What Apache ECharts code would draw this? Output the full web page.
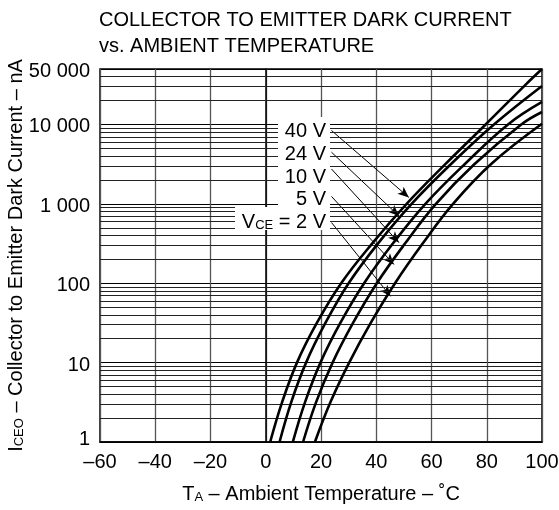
<!DOCTYPE html>
<html><head><meta charset="utf-8">
<script src="https://cdn.jsdelivr.net/npm/echarts@6/dist/echarts.min.js"></script>
<style>html,body{margin:0;padding:0;background:#fff}#c{width:559px;height:510px}</style>
</head><body><div id="c"></div>
<script>
// ---- data (temperature °C, dark current nA) ----
const seriesNames = ['40 V', '24 V', '10 V', '5 V', 'VCE = 2 V'];
const curve40 = [[1.6,1],[5.9,3.16],[11.3,10],[18.5,31.6],[27.3,100],[38.5,316],[51.0,1000],[65.0,3160],[79.6,10000],[94.0,31600],[100,50000]];
const curve24 = [[5.0,1],[9.2,3.16],[14.6,10],[21.6,31.6],[30.0,100],[40.6,316],[52.8,1000],[67.0,3160],[82.6,10000],[100,30600]];
const curve10 = [[9.8,1],[14.2,3.16],[19.8,10],[27.0,31.6],[35.6,100],[46.0,316],[57.8,1000],[72.0,3160],[87.7,10000],[100,19200]];
const curve5  = [[13.5,1],[18.2,3.16],[24.2,10],[31.6,31.6],[40.2,100],[50.4,316],[61.6,1000],[75.5,3160],[92.5,10000],[100,14350]];
const curve2  = [[17.8,1],[23.4,3.16],[30.2,10],[38.0,31.6],[46.8,100],[56.8,316],[67.8,1000],[81.5,3160],[100,10200]];
const curves = [curve40, curve24, curve10, curve5, curve2];
// arrows: [label end, arrow tip] in data coords
const arrowStarts = [[23.8,8400],[23.8,4475],[23.8,2750],[23.8,1241],[23.8,582]];
const arrowTips   = [[51.8,1205],[48.2,705],[48.2,325],[46.4,172.6],[45.2,68.4]];
// axes
const xTicks = [-60,-40,-20,0,20,40,60,80,100];
const yTickValues = [1,10,100,1000,10000,50000];
const yTickLabels = ['1','10','100','1 000','10 000','50 000'];
const minorGrid = [2,3,4,5,6,7,8,9,20,30,40,50,60,70,80,90,200,300,400,500,600,700,800,900,2000,3000,4000,5000,6000,7000,8000,9000,20000,30000,40000];

const FONT = 'Liberation Sans, Arial, Helvetica, sans-serif';
const chart = echarts.init(document.getElementById('c'), null, {renderer:'canvas'});

const series = curves.map((c, i) => ({
  name: seriesNames[i], type: 'line', data: c, smooth: 0.4, showSymbol: false,
  lineStyle: {color:'#000', width: 2.6}, z: 5, silent: true,
  markLine: {
    silent: true, symbol: ['none','arrow'], symbolSize: [7, 11],
    label: {show:false}, lineStyle: {color:'#000', width: 1, type:'solid'},
    data: [[{coord: arrowStarts[i]}, {coord: arrowTips[i]}]]
  }
}));
// minor log grid lines
series.push({
  type:'line', data: [], silent: true, z: 1,
  markLine: {
    silent: true, symbol: 'none', label: {show:false},
    lineStyle: {color:'#222', width: 1, type:'solid'},
    data: minorGrid.map(v => ({yAxis: v}))
  }
});

chart.setOption({
  animation: false,
  backgroundColor: '#fff',
  title: {
    text: 'COLLECTOR TO EMITTER DARK CURRENT\nvs. AMBIENT TEMPERATURE',
    left: 99, top: 7, padding: 0,
    textStyle: {fontFamily: FONT, fontSize: 20, fontWeight: 'normal', color: '#000', lineHeight: 26}
  },
  grid: {left: 100, right: 17, top: 69, bottom: 68, show: true, borderColor: '#000', borderWidth: 1.5,
         containLabel: false, outerBoundsMode: 'none'},
  xAxis: {
    type: 'value', min: -60, max: 100, interval: 20,
    axisLine: {lineStyle: {color:'#000', width: 1.5}},
    axisTick: {show: false},
    splitLine: {show: true, lineStyle: {color: '#555', width: 1.3}},
    axisLabel: {color:'#000', fontFamily: FONT, fontSize: 20, margin: 10,
      formatter: v => (v < 0 ? '\u2013' + Math.abs(v) : String(v))},
    name: '{t|T}{s|A}{t| \u2013 Ambient Temperature \u2013 \u02DAC}',
    nameLocation: 'middle', nameGap: 40, nameMoveOverlap: false,
    nameTextStyle: {rich: {
      t: {fontFamily: FONT, fontSize: 20, color:'#000', verticalAlign:'bottom', lineHeight: 22},
      s: {fontFamily: FONT, fontSize: 13, color:'#000', verticalAlign:'bottom', lineHeight: 22}
    }}
  },
  yAxis: {
    type: 'log', logBase: 10, min: 1, max: 50000,
    axisLine: {lineStyle: {color:'#000', width: 1.5}},
    axisTick: {show: false},
    splitLine: {show: true, lineStyle: {color: '#000', width: 1}},
    axisLabel: {color:'#000', fontFamily: FONT, fontSize: 20, margin: 10, showMaxLabel: true,
      formatter: v => {
        let best = 0, d = Infinity;
        yTickValues.forEach((t, k) => { const dd = Math.abs(Math.log10(t) - Math.log10(v)); if (dd < d) { d = dd; best = k; } });
        return best === 0 ? '{lo|' + yTickLabels[best] + '}' : '{n|' + yTickLabels[best] + '}';
      },
      rich: {
        n: {fontFamily: FONT, fontSize: 20, color:'#000', padding: [5, 0, 0, 0]},
        lo: {fontFamily: FONT, fontSize: 20, color:'#000', padding: [0, 0, 6, 0]}
      }},
    name: '{t|I}{s|CEO}{t| \u2013 Collector to Emitter Dark Current \u2013 nA}',
    nameLocation: 'middle', nameGap: 74, nameMoveOverlap: false,
    nameTextStyle: {rich: {
      t: {fontFamily: FONT, fontSize: 20, color:'#000', verticalAlign:'bottom', lineHeight: 22},
      s: {fontFamily: FONT, fontSize: 13, color:'#000', verticalAlign:'bottom', lineHeight: 22}
    }}
  },
  series: series
});

// label box and labels
const labelTexts = ['{a|40 V}', '{a|24 V}', '{a|10 V}', '{a|5 V}', '{a|V}{b|CE}{a| = 2 V}'];
const labelY = [130, 153, 176, 198, 221];
const rich = {
  a: {fontFamily: FONT, fontSize: 20, color:'#000', verticalAlign:'bottom', lineHeight: 22},
  b: {fontFamily: FONT, fontSize: 13, color:'#000', verticalAlign:'bottom', lineHeight: 22}
};
const elements = [
  {type:'rect', shape:{x:278, y:117, width:52, height:91}, style:{fill:'#fff'}, z: 100},
  {type:'rect', shape:{x:235, y:207, width:95, height:23}, style:{fill:'#fff'}, z: 100}
];
labelTexts.forEach((t, i) => {
  elements.push({type:'text', x: 326, y: labelY[i], z: 101,
    style: {text: t, rich: rich, align:'right', verticalAlign:'middle'}});
});
chart.setOption({graphic: {elements}});
</script></body></html>
